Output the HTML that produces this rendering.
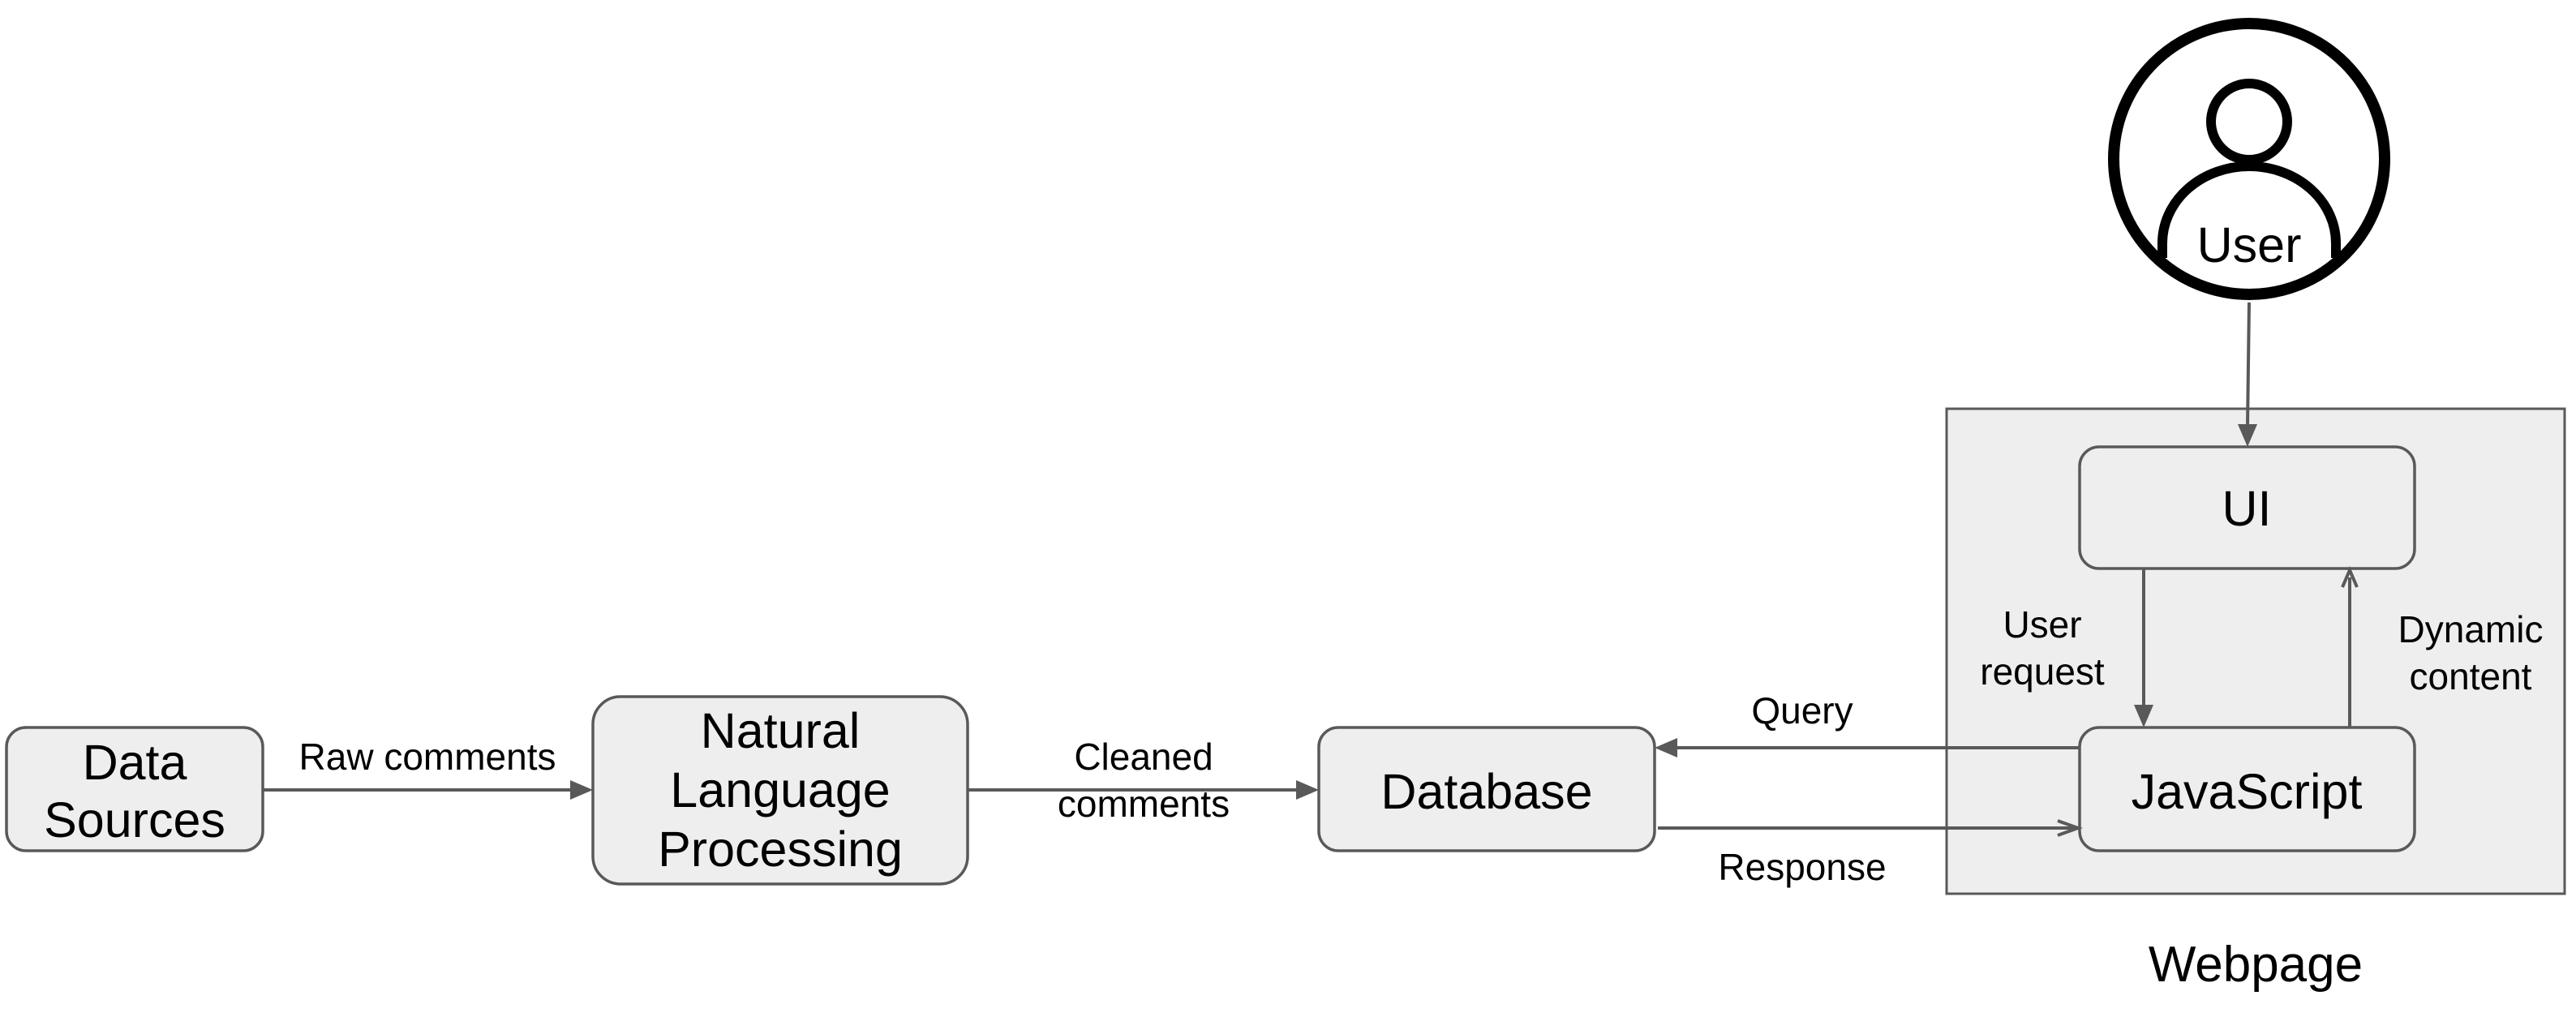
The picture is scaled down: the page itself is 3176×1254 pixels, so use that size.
<!DOCTYPE html>
<html><head><meta charset="utf-8"><style>
html,body{margin:0;padding:0;background:#fff;}
svg{display:block;}
text{font-family:"Liberation Sans",Arial,sans-serif;fill:#000;}
</style></head><body>
<svg width="3176" height="1254" viewBox="0 0 3176 1254" xmlns="http://www.w3.org/2000/svg">
<rect width="3176" height="1254" fill="#fff"/>
<rect x="2400" y="504" width="762" height="598" fill="#eeeeee" stroke="#595959" stroke-width="3"/>
<g fill="#eeeeee" stroke="#595959" stroke-width="3.5">
<rect x="8" y="897" width="316" height="152" rx="24"/>
<rect x="731" y="859" width="462" height="231" rx="34"/>
<rect x="1626" y="897" width="414" height="152" rx="24"/>
<rect x="2564" y="551" width="413" height="150" rx="24"/>
<rect x="2564" y="897" width="413" height="152" rx="24"/>
</g>
<g stroke="#595959" stroke-width="4" fill="none">
<line x1="324" y1="974" x2="706" y2="974"/>
<line x1="1193" y1="974" x2="1602" y2="974"/>
<line x1="2564" y1="922" x2="2064" y2="922"/>
<line x1="2044" y1="1021" x2="2556" y2="1021"/>
<line x1="2643" y1="701" x2="2643" y2="873"/>
<line x1="2897" y1="897" x2="2897" y2="712"/>
<line x1="2773" y1="373" x2="2771" y2="527"/>
</g>
<g fill="#595959">
<polygon points="731,974 703,962 703,986"/>
<polygon points="1626,974 1598,962 1598,986"/>
<polygon points="2040,922 2068,910 2068,934"/>
<polygon points="2643,897 2631,869 2655,869"/>
<polygon points="2771,551 2759,523 2783,523"/>
</g>
<polyline points="2537,1012 2562,1021 2537,1030" fill="none" stroke="#595959" stroke-width="4"/>
<polyline points="2888,724 2897,703 2906,724" fill="none" stroke="#595959" stroke-width="4"/>
<circle cx="2773" cy="196" r="167" fill="#fff" stroke="#000" stroke-width="14"/>
<circle cx="2773" cy="150" r="47" fill="#fff" stroke="#000" stroke-width="12"/>
<path d="M2666,318 L2666,300 A107,95 0 0 1 2880,300 L2880,318" fill="none" stroke="#000" stroke-width="12"/>
<g text-anchor="middle" font-size="61">
<text x="166" y="961">Data</text>
<text x="166" y="1032">Sources</text>
<text x="962" y="922">Natural</text>
<text x="962" y="995">Language</text>
<text x="962" y="1068">Processing</text>
<text x="1833" y="997">Database</text>
<text x="2770" y="648">UI</text>
<text x="2770" y="997">JavaScript</text>
<text x="2773" y="323">User</text>
</g>
<text x="2781" y="1210" text-anchor="middle" font-size="62">Webpage</text>
<g text-anchor="middle" font-size="46">
<text x="527" y="949">Raw comments</text>
<text x="1410" y="949">Cleaned</text>
<text x="1410" y="1007">comments</text>
<text x="2222" y="892">Query</text>
<text x="2222" y="1085">Response</text>
<text x="2518" y="786">User</text>
<text x="2518" y="844">request</text>
<text x="3046" y="792">Dynamic</text>
<text x="3046" y="850">content</text>
</g>
</svg>
</body></html>
